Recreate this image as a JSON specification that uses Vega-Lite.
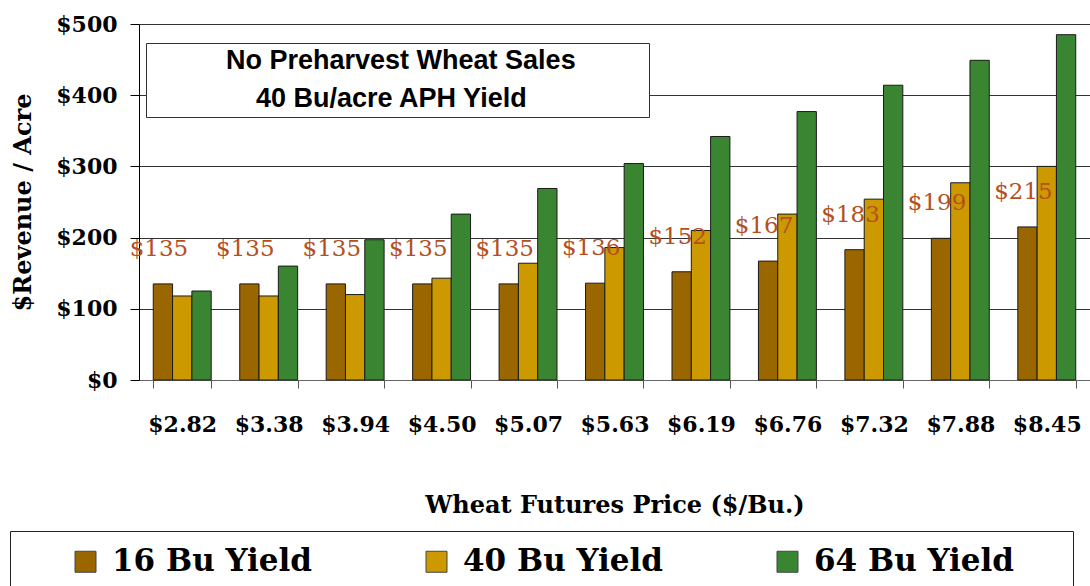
{
  "$schema": "https://vega.github.io/schema/vega-lite/v6.json",
  "width": 951,
  "height": 356,
  "autosize": {"type": "none"},
  "padding": {"left": 139, "top": 24, "right": 0, "bottom": 206},
  "background": "white",
  "config": {"view": {"stroke": null}},
  "data": {
    "values": [
      {"price": "$2.82", "series": "16 Bu Yield", "value": 135},
      {"price": "$2.82", "series": "40 Bu Yield", "value": 118},
      {"price": "$2.82", "series": "64 Bu Yield", "value": 125},
      {"price": "$3.38", "series": "16 Bu Yield", "value": 135},
      {"price": "$3.38", "series": "40 Bu Yield", "value": 118},
      {"price": "$3.38", "series": "64 Bu Yield", "value": 160},
      {"price": "$3.94", "series": "16 Bu Yield", "value": 135},
      {"price": "$3.94", "series": "40 Bu Yield", "value": 120},
      {"price": "$3.94", "series": "64 Bu Yield", "value": 197},
      {"price": "$4.50", "series": "16 Bu Yield", "value": 135},
      {"price": "$4.50", "series": "40 Bu Yield", "value": 143},
      {"price": "$4.50", "series": "64 Bu Yield", "value": 233},
      {"price": "$5.07", "series": "16 Bu Yield", "value": 135},
      {"price": "$5.07", "series": "40 Bu Yield", "value": 164},
      {"price": "$5.07", "series": "64 Bu Yield", "value": 269},
      {"price": "$5.63", "series": "16 Bu Yield", "value": 136},
      {"price": "$5.63", "series": "40 Bu Yield", "value": 186},
      {"price": "$5.63", "series": "64 Bu Yield", "value": 304},
      {"price": "$6.19", "series": "16 Bu Yield", "value": 152},
      {"price": "$6.19", "series": "40 Bu Yield", "value": 210},
      {"price": "$6.19", "series": "64 Bu Yield", "value": 342},
      {"price": "$6.76", "series": "16 Bu Yield", "value": 167},
      {"price": "$6.76", "series": "40 Bu Yield", "value": 233},
      {"price": "$6.76", "series": "64 Bu Yield", "value": 377},
      {"price": "$7.32", "series": "16 Bu Yield", "value": 183},
      {"price": "$7.32", "series": "40 Bu Yield", "value": 254},
      {"price": "$7.32", "series": "64 Bu Yield", "value": 414},
      {"price": "$7.88", "series": "16 Bu Yield", "value": 199},
      {"price": "$7.88", "series": "40 Bu Yield", "value": 277},
      {"price": "$7.88", "series": "64 Bu Yield", "value": 449},
      {"price": "$8.45", "series": "16 Bu Yield", "value": 215},
      {"price": "$8.45", "series": "40 Bu Yield", "value": 300},
      {"price": "$8.45", "series": "64 Bu Yield", "value": 485}
    ]
  },
  "layer": [
    {
      "mark": {"type": "bar", "stroke": "#1a1a1a", "strokeWidth": 1},
      "encoding": {
        "x": {
          "field": "price", "type": "nominal", "sort": null,
          "scale": {"paddingInner": 0.33, "paddingOuter": 0.165},
          "axis": {
            "labelAngle": 0, "labelFont": "DejaVu Serif", "labelFontSize": 22, "labelFontWeight": "bold",
            "labelColor": "black", "labelPadding": 26, "tickBand": "extent", "tickSize": 8,
            "tickColor": "#555", "domainColor": "#666",
            "title": "Wheat Futures Price ($/Bu.)", "titleFont": "DejaVu Serif", "titleFontSize": 24,
            "titleFontWeight": "bold", "titleColor": "black", "titlePadding": 58
          }
        },
        "xOffset": {"field": "series", "type": "nominal", "sort": ["16 Bu Yield", "40 Bu Yield", "64 Bu Yield"], "scale": {"paddingInner": 0, "paddingOuter": 0}},
        "y": {
          "field": "value", "type": "quantitative", "scale": {"domain": [0, 500]},
          "axis": {
            "values": [0, 100, 200, 300, 400, 500], "format": "$.0f",
            "labelFont": "DejaVu Serif", "labelFontSize": 22, "labelFontWeight": "bold", "labelColor": "black",
            "labelPadding": 13, "tickSize": 9, "tickColor": "black", "domainColor": "black",
            "gridColor": "#333", "grid": true,
            "title": "$Revenue / Acre", "titleFont": "DejaVu Serif", "titleFontSize": 24, "titleFontWeight": "bold",
            "titleColor": "black", "titlePadding": 20
          }
        },
        "fill": {
          "field": "series", "type": "nominal",
          "scale": {"domain": ["16 Bu Yield", "40 Bu Yield", "64 Bu Yield"], "range": ["#996600", "#CC9900", "#3A8531"]},
          "legend": {
            "orient": "none", "legendX": -129, "legendY": 507, "direction": "horizontal", "columns": 3,
            "title": " ", "titleOrient": "left", "titleFontSize": 10, "titlePadding": 45,
            "strokeColor": "#222", "fillColor": "white", "padding": 15,
            "symbolType": "square", "symbolSize": 441, "symbolStrokeColor": "#444", "symbolStrokeWidth": 1, "symbolOpacity": 1,
            "labelFont": "DejaVu Serif", "labelFontSize": 31, "labelFontWeight": "bold", "labelColor": "black",
            "labelOffset": 11, "labelLimit": 600, "columnPadding": 65,
            "labelExpr": "datum.label + '\u00a0\u00a0\u00a0\u00a0\u200b'"
          }
        }
      }
    },
    {
      "transform": [{"filter": "datum.series == '16 Bu Yield'"}],
      "mark": {"type": "text", "font": "DejaVu Serif", "fontSize": 23, "color": "#B4501E", "dy": -35, "dx": -4},
      "encoding": {
        "x": {"field": "price", "type": "nominal", "sort": null},
        "xOffset": {"field": "series", "type": "nominal", "sort": ["16 Bu Yield", "40 Bu Yield", "64 Bu Yield"]},
        "y": {"field": "value", "type": "quantitative"},
        "text": {"field": "value", "format": "$.0f"},
        "opacity": {
          "datum": "t", "type": "nominal", "scale": {"range": [1]},
          "legend": {
            "orient": "none", "legendX": 7, "legendY": 19, "values": [],
            "title": ["\u200b\u00a0\u00a0\u00a0\u00a0\u00a0\u00a0\u00a0\u00a0\u00a0\u00a0No Preharvest Wheat Sales\u00a0\u00a0\u00a0\u00a0\u00a0\u00a0\u00a0\u00a0\u00a0\u200b", "\u200b\u00a0\u00a0\u00a0\u00a0\u00a0\u00a0\u00a0\u00a0\u00a0\u00a0\u00a0\u00a0\u00a0\u00a040 Bu/acre APH Yield"],
            "titleFont": "Liberation Sans", "titleFontSize": 27, "titleFontWeight": "bold", "titleColor": "black",
            "titleAlign": "left", "titleAnchor": "start", "titleLineHeight": 38, "titlePadding": 0,
            "titleLimit": 1000,
            "strokeColor": "#333", "fillColor": "white", "padding": 5
          }
        }
      }
    }
  ]
}
